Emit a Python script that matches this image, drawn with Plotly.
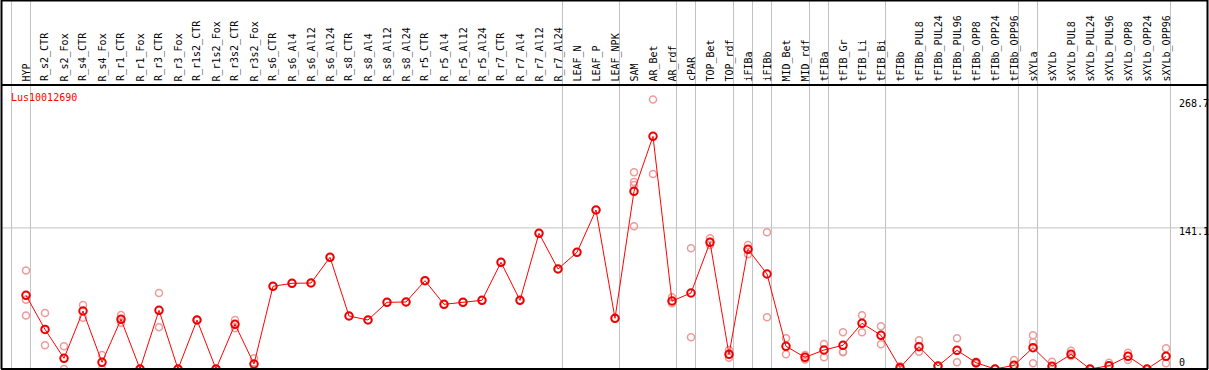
import plotly.graph_objects as go

gene_id = "Lus10012690"

categories = [
    "HYP",
    "R_s2_CTR", "R_s2_Fox", "R_s4_CTR", "R_s4_Fox", "R_r1_CTR", "R_r1_Fox",
    "R_r3_CTR", "R_r3_Fox", "R_r1s2_CTR", "R_r1s2_Fox", "R_r3s2_CTR", "R_r3s2_Fox",
    "R_s6_CTR", "R_s6_Al4", "R_s6_Al12", "R_s6_Al24", "R_s8_CTR", "R_s8_Al4",
    "R_s8_Al12", "R_s8_Al24", "R_r5_CTR", "R_r5_Al4", "R_r5_Al12", "R_r5_Al24",
    "R_r7_CTR", "R_r7_Al4", "R_r7_Al12", "R_r7_Al24",
    "LEAF_N", "LEAF_P", "LEAF_NPK",
    "SAM", "AR_Bet", "AR_rdf", "cPAR", "TOP_Bet", "TOP_rdf", "iFIBa", "iFIBb",
    "MID_Bet", "MID_rdf", "tFIBa", "tFIB_Gr", "tFIB_Li", "tFIB_Bi",
    "tFIBb", "tFIBb_PUL8", "tFIBb_PUL24", "tFIBb_PUL96", "tFIBb_OPP8",
    "tFIBb_OPP24", "tFIBb_OPP96",
    "sXYLa", "sXYLb", "sXYLb_PUL8", "sXYLb_PUL24", "sXYLb_PUL96", "sXYLb_OPP8",
    "sXYLb_OPP24", "sXYLb_OPP96",
]

means = [
    73.7,
    39.6, 10.7, 58.0, 6.7, 49.7, 0.0,
    58.7, 0.0, 49.0, 0.0, 44.7, 5.0,
    82.7, 85.7, 86.0, 111.7, 53.0, 49.0,
    66.7, 67.0, 88.3, 64.7, 66.7, 68.7,
    106.7, 68.7, 135.7, 100.0,
    116.7, 159.0, 50.7,
    177.7, 232.7, 68.0, 76.0, 126.7, 14.7, 119.7, 95.0,
    22.7, 11.7, 19.0, 23.7, 45.7, 33.7,
    1.3, 22.3, 3.0, 18.7, 6.3,
    0.0, 3.7,
    21.3, 2.7, 14.7, 0.0, 3.3, 12.7,
    0.0, 12.7,
]

replicates = [
    [98.6, 69.2, 53.6],
    [56.0, 23.7], [22.7, 0.0], [64.0, 51.3], [14.0, 0.0], [54.0, 46.3], [0.0, 0.0],
    [76.0, 41.7], [0.0, 0.0], [49.0, 49.0], [0.0, 0.0], [49.0, 40.7], [10.7, 0.0],
    [82.7], [85.7], [86.0], [111.7], [53.0], [49.0],
    [66.7], [67.0], [88.3], [64.7], [66.7], [68.7],
    [106.7], [68.7], [135.7], [100.0],
    [116.7], [159.0], [50.7],
    [196.7, 187.0, 184.0, 142.7], [269.5, 195.0], [71.7, 65.7], [120.7, 31.7],
    [130.7, 124.0], [19.0, 11.3], [124.0, 114.7], [136.7, 51.7],
    [30.7, 14.7], [14.0, 9.4], [25.0, 11.7], [36.7, 17.3, 16.7], [53.7, 36.7], [42.7, 24.7],
    [2.7, 0.0], [28.7, 17.3], [3.0, 3.0], [30.7, 6.7], [7.3, 5.3],
    [0.0, 0.0], [9.0, 0.0],
    [33.7, 26.7, 5.7], [7.3, 0.0], [18.3, 13.0], [0.0, 0.0], [6.3, 0.0], [16.3, 9.0],
    [0.0, 0.0], [20.7, 5.7],
]

# group separators: drawn just after these category indices (-1 = before first)
group_ends = [-1, 0, 28, 31, 34, 35, 37, 38, 39, 41, 42, 45, 52, 53, 60]

y_ticks = [0, 141.1, 268.7]
y_tick_labels = ["0", "141.1", "268.7"]

W, H = 1209, 370
x0_px, step_px = 26.0, 19.0
header_px = 85.0

xs = list(range(len(categories)))
rep_x, rep_y = [], []
for i, reps in enumerate(replicates):
    for v in reps:
        rep_x.append(i)
        rep_y.append(v)

fig = go.Figure()
fig.add_trace(go.Scatter(
    x=rep_x, y=rep_y, mode="markers",
    marker=dict(symbol="circle-open", size=7, color="#ee9a9a",
                line=dict(width=1.5, color="#ee9a9a")),
    cliponaxis=False, hoverinfo="skip", showlegend=False,
))
fig.add_trace(go.Scatter(
    x=xs, y=means, mode="lines+markers",
    line=dict(color="#ff0000", width=1),
    marker=dict(symbol="circle-open", size=7.5, color="#ee0000",
                line=dict(width=2, color="#ee0000")),
    cliponaxis=False, showlegend=False,
))

shapes = []
grey = "#c3c3c3"
for g in group_ends:
    xp = g + 4.5 / step_px
    shapes.append(dict(type="line", xref="x", yref="paper", x0=xp, x1=xp, y0=0, y1=1,
                       line=dict(color=grey, width=1), layer="below"))
# horizontal grid at middle tick
shapes.append(dict(type="line", xref="paper", yref="y", x0=1 / W, x1=1207 / W,
                   y0=y_ticks[1], y1=y_ticks[1], line=dict(color=grey, width=1), layer="below"))

def py(p):
    return (H - p) / H

def px(p):
    return p / W

black = "#000000"
for (xa, ya, xb, yb) in [
    (1, 0.5, 1208, 0.5),
    (1, header_px, 1208, header_px),
    (1, 369, 1208, 369),
]:
    shapes.append(dict(type="line", xref="paper", yref="paper", x0=px(xa), x1=px(xb),
                       y0=py(ya), y1=py(yb), line=dict(color=black, width=2)))
for xv in [1.5, 1207.5]:
    shapes.append(dict(type="line", xref="paper", yref="paper", x0=px(xv), x1=px(xv),
                       y0=py(0), y1=py(369), line=dict(color=black, width=2)))

annotations = []
for i, c in enumerate(categories):
    annotations.append(dict(
        x=i, y=py(header_px - 1.5), xref="x", yref="paper", text=c, showarrow=False,
        textangle=-90, xanchor="center", yanchor="bottom",
        font=dict(family="DejaVu Sans Mono", size=10, color="black"),
    ))

tick_shifts = [7, -4, -3]
for v, t, s in zip(y_ticks, y_tick_labels, tick_shifts):
    annotations.append(dict(
        x=px(1177), y=v, xref="paper", yref="y", text=t, showarrow=False,
        xanchor="left", yanchor="middle", yshift=s,
        font=dict(family="DejaVu Sans Mono", size=10, color="black"),
    ))

annotations.append(dict(
    x=px(9), y=py(97), xref="paper", yref="paper", text=gene_id, showarrow=False,
    xanchor="left", yanchor="middle",
    font=dict(family="DejaVu Sans Mono", size=10, color="#ff0000"),
))

fig.update_layout(
    width=W, height=H,
    margin=dict(l=0, r=0, t=0, b=0, pad=0),
    paper_bgcolor="white", plot_bgcolor="white",
    xaxis=dict(range=[-x0_px / step_px, (W - x0_px) / step_px], visible=False, fixedrange=True),
    yaxis=dict(range=[-(H - 369.0), 369.0], visible=False, fixedrange=True),
    shapes=shapes, annotations=annotations, showlegend=False,
)

fig.write_html(
    "out.html",
    config={"displayModeBar": False},
    post_script="document.body.style.margin='0px';document.body.style.overflow='hidden';",
)
